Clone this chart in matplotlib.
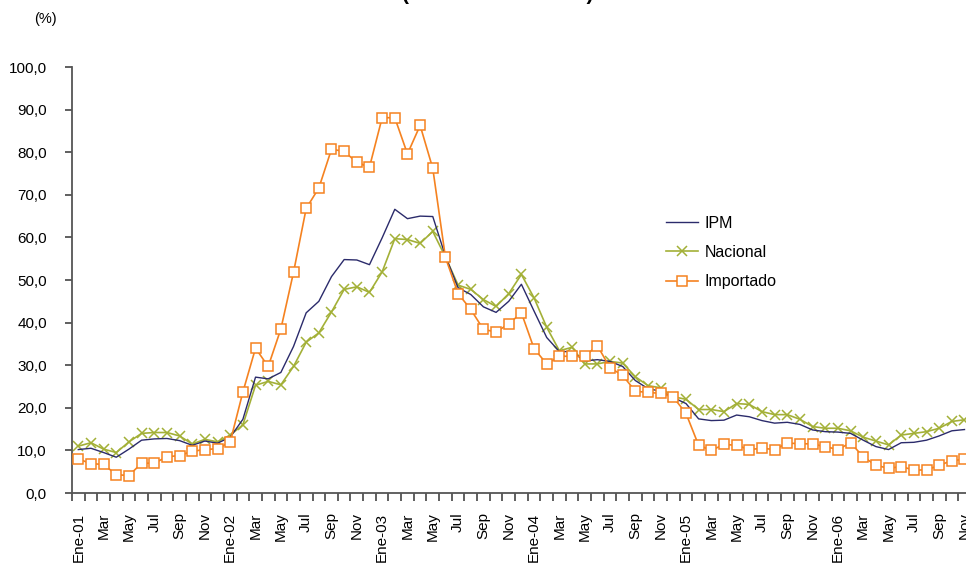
import matplotlib
matplotlib.use('Agg')
import matplotlib.pyplot as plt

# Monthly series, Ene-01 .. Nov-06 (%)
ipm = [10.2, 10.5, 9.5, 8.4, 10.3, 12.4, 12.7, 12.8, 12.3, 11.2, 12.2, 11.7,
       13.1, 17.3, 27.2, 26.8, 28.3, 34.4, 42.3, 45.0, 50.8, 54.8, 54.7, 53.6,
       59.9, 66.6, 64.4, 65.0, 64.9, 55.6, 48.2, 46.6, 43.7, 42.4, 45.0, 49.0,
       42.7, 36.5, 33.2, 33.2, 31.0, 31.3, 30.9, 29.7, 26.4, 24.5, 23.9, 22.4,
       21.0, 17.4, 17.0, 17.1, 18.3, 17.9, 17.0, 16.4, 16.6, 16.1, 14.8, 14.4,
       14.3, 14.0, 12.4, 10.9, 10.2, 11.8, 11.9, 12.4, 13.4, 14.6, 14.9]

nacional = [11.0, 11.8, 10.3, 9.5, 12.0, 14.0, 14.2, 14.2, 13.4, 11.5, 12.6, 12.0,
            13.6, 16.0, 25.3, 26.2, 25.4, 29.7, 35.4, 37.6, 42.5, 47.8, 48.4, 47.1,
            51.9, 59.7, 59.5, 58.6, 61.4, 55.4, 48.8, 47.8, 45.4, 43.8, 46.8, 51.3,
            45.8, 38.9, 33.4, 34.2, 30.3, 30.3, 30.9, 30.5, 27.3, 25.2, 24.7, 22.6,
            22.0, 19.6, 19.6, 19.1, 21.0, 20.8, 19.1, 18.4, 18.4, 17.3, 15.6, 15.2,
            15.2, 14.6, 13.1, 12.2, 11.3, 13.6, 14.0, 14.4, 15.2, 16.8, 17.2]

importado = [8.0, 6.9, 6.7, 4.3, 4.1, 7.0, 7.0, 8.5, 8.8, 9.8, 10.2, 10.4,
             12.0, 23.7, 34.0, 29.7, 38.5, 51.8, 66.8, 71.6, 80.7, 80.2, 77.6, 76.5,
             88.1, 88.1, 79.6, 86.3, 76.2, 55.3, 46.8, 43.1, 38.4, 37.8, 39.7, 42.3,
             33.9, 30.3, 32.1, 32.1, 32.1, 34.6, 29.4, 27.6, 23.9, 23.6, 23.4, 22.5,
             18.7, 11.2, 10.0, 11.4, 11.2, 10.2, 10.5, 10.2, 11.7, 11.6, 11.5, 10.9,
             10.2, 11.8, 8.5, 6.5, 5.8, 6.2, 5.4, 5.4, 6.5, 7.6, 7.9]

month_names = ['Ene', 'Feb', 'Mar', 'Abr', 'May', 'Jun',
               'Jul', 'Ago', 'Sep', 'Oct', 'Nov', 'Dic']
first_year = 2001

y_ticks = [0, 10, 20, 30, 40, 50, 60, 70, 80, 90, 100]


def month_labels(n):
    """ Build the category labels: Ene-YY on January, month name otherwise. """
    labels = []
    for i in range(n):
        m = i % 12
        if m == 0:
            labels.append(f"Ene-{(first_year + i // 12) % 100:02d}")
        else:
            labels.append(month_names[m])
    return labels


def plot_chart(output_file):
    plt.rcParams['font.family'] = ['Liberation Sans', 'DejaVu Sans']
    fig = plt.figure(figsize=(9.66, 5.67), dpi=100)
    ax = fig.add_axes([0.0745, 0.1305, 0.9305, 0.7513])

    n = len(ipm)
    x = list(range(n))

    ax.plot(x, ipm, color='#2b2b6b', lw=1.0, label='IPM', zorder=3)
    ax.plot(x, nacional, color='#a3b037', lw=1.2, marker='x', ms=7.5,
            mew=1.1, label='Nacional', zorder=2)
    ax.plot(x, importado, color='#f58220', lw=1.2, marker='s', ms=7.5,
            mfc='white', mec='#f58220', mew=1.1, label='Importado', zorder=4)

    ax.set_xlim(-0.5, n - 0.5)
    ax.set_ylim(0, 100)

    # ticks between categories, labels every 2 months at category centre
    ax.set_xticks([i - 0.5 for i in range(n + 1)])
    ax.set_xticklabels([])
    labels = month_labels(n)
    ax.set_xticks(x[::2], minor=True)
    ax.set_xticklabels(labels[::2], minor=True, rotation=90, fontsize=11)
    ax.tick_params(axis='x', which='major', direction='out', length=6,
                   width=1.2, color='#444444')
    ax.tick_params(axis='x', which='minor', length=0, pad=14)

    ax.set_yticks(y_ticks)
    ax.set_yticklabels([f"{v:.1f}".replace('.', ',') for v in y_ticks],
                       fontsize=11)
    ax.tick_params(axis='y', direction='out', length=5, width=1.2,
                   color='#444444', pad=13)

    for side in ['top', 'right']:
        ax.spines[side].set_visible(False)
    for side in ['left', 'bottom']:
        ax.spines[side].set_color('#555555')
        ax.spines[side].set_linewidth(1.3)

    fig.text(0.047, 0.966, '(%)', fontsize=10.5, ha='center', va='center')
    fig.text(0.515, 1.0, '(Variación % anual)', fontsize=15,
             fontweight='bold', ha='center', va='baseline')

    ax.legend(loc='upper left', bbox_to_anchor=(0.645, 0.685), frameon=False,
              fontsize=11.5, handlelength=2.0, handletextpad=0.4,
              labelspacing=0.9)

    fig.savefig(output_file, dpi=100)
    plt.close(fig)


def main():
    plot_chart('out.png')


if __name__ == "__main__":
    main()
